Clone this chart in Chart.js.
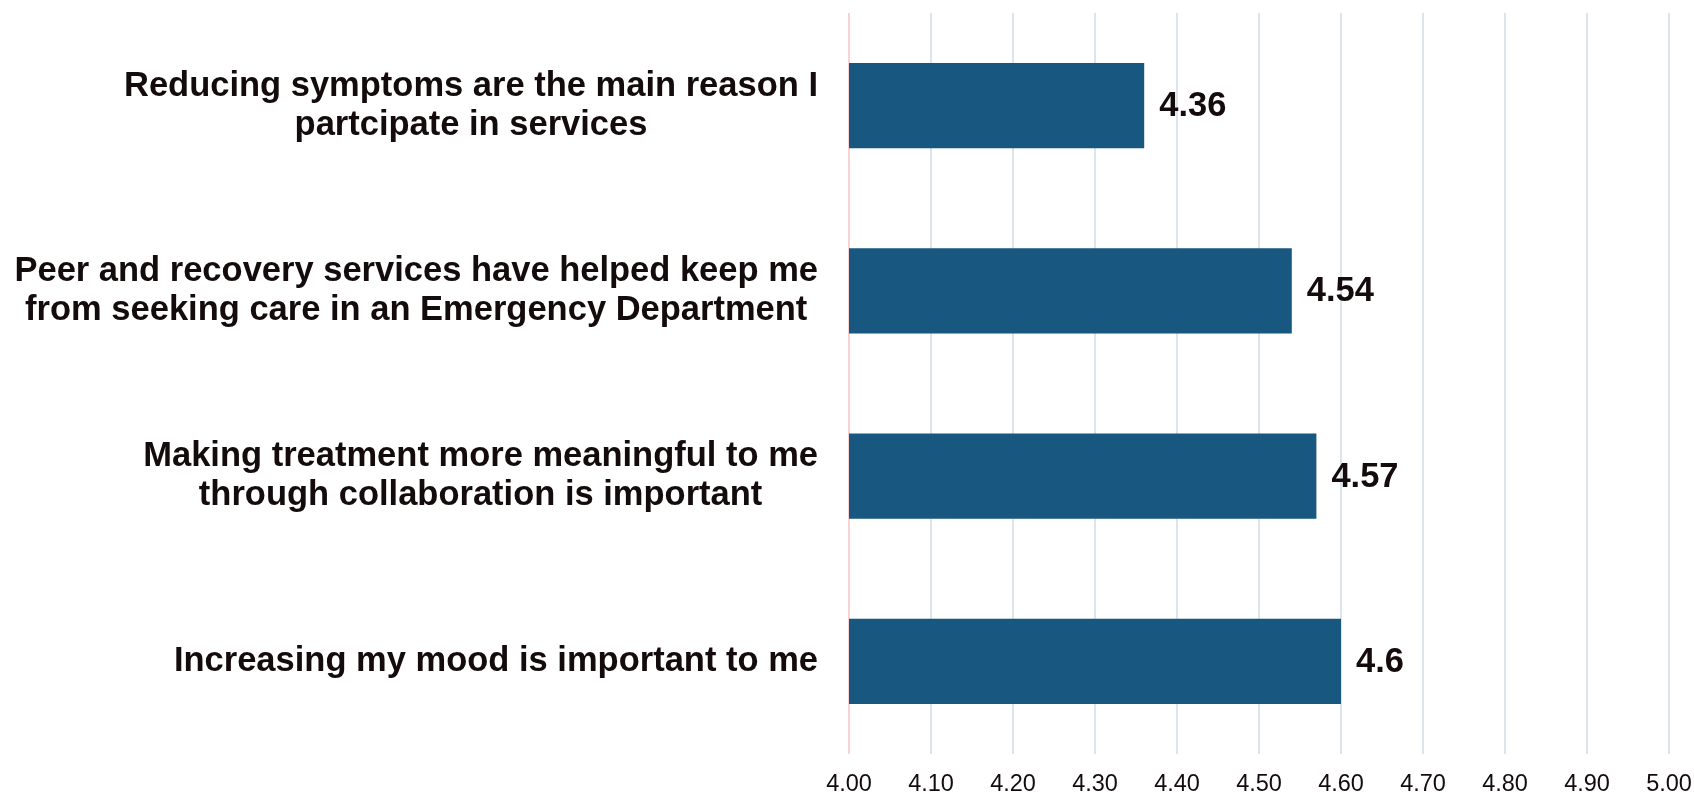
<!DOCTYPE html>
<html>
<head>
<meta charset="utf-8">
<script src="https://cdn.jsdelivr.net/npm/chart.js@4"></script>
<style>
    html, body { margin: 0; padding: 0; background: #ffffff; }
    #wrap { width: 1694px; height: 792px; position: relative; }
</style>
</head>
<body>
<div id="wrap"><canvas id="surveyChart"></canvas></div>
<script>
// Survey statements (wrapped the same way as the axis labels)
const categories = [
    ['Reducing symptoms are the main reason I', 'partcipate in services'],
    ['Peer and recovery services have helped keep me', 'from seeking care in an Emergency Department'],
    ['Making treatment more meaningful to me', 'through collaboration is important'],
    ['Increasing my mood is important to me']
];
const meanScores = [4.36, 4.54, 4.57, 4.6];
const xTickValues = [4.0, 4.1, 4.2, 4.3, 4.4, 4.5, 4.6, 4.7, 4.8, 4.9, 5.0];
const xTickLabels = ['4.00', '4.10', '4.20', '4.30', '4.40', '4.50', '4.60', '4.70', '4.80', '4.90', '5.00'];

const TEXT_COLOR = '#140c0c';
const BAR_COLOR = '#185780';
const BOLD_FONT = "bold 34.5px 'Liberation Sans', Arial, sans-serif";
const LABEL_RIGHT = 818;    // right edge of every statement block
const LINE_HEIGHT = 39;

// Statement labels left of the axis: block right-aligned, lines centred inside it
const categoryLabels = {
    id: 'categoryLabels',
    afterDraw(chart) {
        const ctx = chart.ctx;
        const yScale = chart.scales.y;
        ctx.save();
        ctx.font = BOLD_FONT;
        ctx.fillStyle = TEXT_COLOR;
        ctx.textAlign = 'center';
        ctx.textBaseline = 'middle';
        categories.forEach((lines, i) => {
            const yMid = yScale.getPixelForTick(i);
            const blockWidth = Math.max(...lines.map(l => ctx.measureText(l).width));
            const xMid = LABEL_RIGHT - blockWidth / 2;
            lines.forEach((line, j) => {
                const y = yMid + (j - (lines.length - 1) / 2) * LINE_HEIGHT;
                ctx.fillText(line, xMid, y);
            });
        });
        ctx.restore();
    }
};

// Score printed just past the end of each bar
const valueLabels = {
    id: 'valueLabels',
    afterDatasetsDraw(chart) {
        const ctx = chart.ctx;
        const meta = chart.getDatasetMeta(0);
        ctx.save();
        ctx.font = BOLD_FONT;
        ctx.fillStyle = TEXT_COLOR;
        ctx.textAlign = 'left';
        ctx.textBaseline = 'middle';
        meta.data.forEach((bar, i) => {
            ctx.fillText(String(meanScores[i]), bar.x + 15, bar.y + 1);
        });
        ctx.restore();
    }
};

const ctxSurvey = document.getElementById('surveyChart').getContext('2d');
new Chart(ctxSurvey, {
    type: 'bar',
    data: {
        labels: categories,
        datasets: [{
            data: meanScores,
            backgroundColor: BAR_COLOR,
            borderWidth: 0,
            barPercentage: 0.461,
            categoryPercentage: 1.0
        }]
    },
    options: {
        indexAxis: 'y',
        responsive: true,
        maintainAspectRatio: false,
        animation: false,
        devicePixelRatio: 1,
        layout: { padding: { top: 13, right: 0, bottom: 0, left: 0 } },
        plugins: {
            legend: { display: false },
            tooltip: { enabled: false }
        },
        scales: {
            x: {
                min: 4,
                max: 5,
                afterBuildTicks: axis => {
                    axis.ticks = xTickValues.map(v => ({ value: v }));
                },
                afterFit: axis => {
                    axis.height = 38;
                    // room for half of the "5.00" label only
                    axis.paddingLeft = 0;
                    axis.paddingRight = 25;
                },
                border: { display: false },
                grid: {
                    drawTicks: false,
                    lineWidth: 2,
                    color: c => c.index === 0 ? '#f8d3d3' : '#dde5ec'
                },
                ticks: {
                    padding: 16,
                    color: TEXT_COLOR,
                    font: { family: "'Liberation Sans', Arial, sans-serif", size: 23.5 },
                    callback: (value, index) => xTickLabels[index]
                }
            },
            y: {
                afterFit: axis => { axis.width = 849; },
                border: { display: false },
                grid: { display: false, drawTicks: false },
                ticks: { display: false }
            }
        }
    },
    plugins: [categoryLabels, valueLabels]
});
</script>
</body>
</html>
